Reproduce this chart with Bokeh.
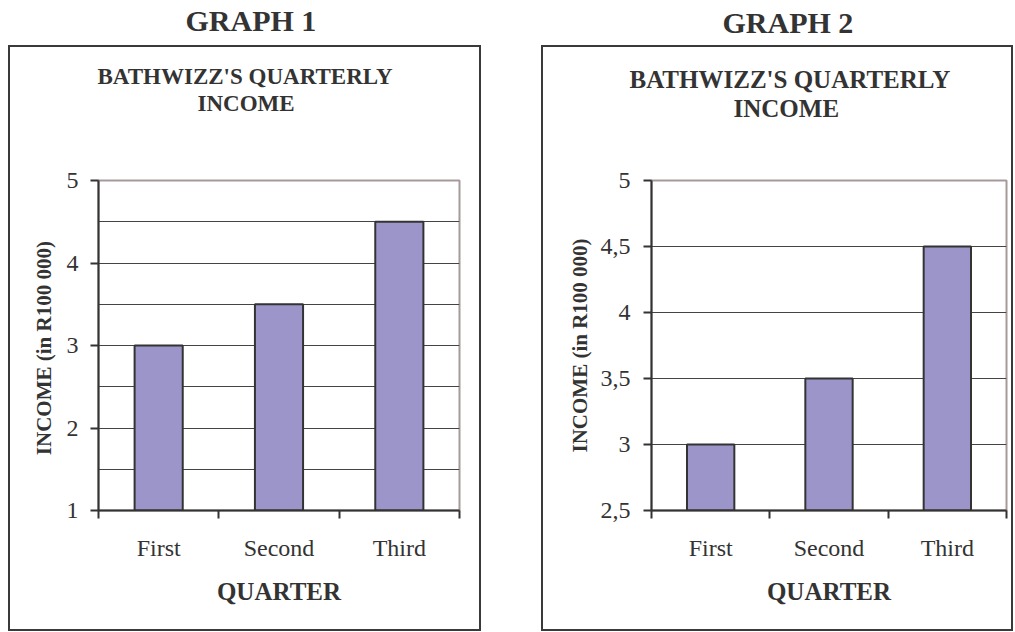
from bokeh.plotting import figure
from bokeh.models import Range1d, FixedTicker, Title
from bokeh.layouts import row
from bokeh.embed import file_html
from bokeh.resources import INLINE

# ---- data ----
categories = ["First", "Second", "Third"]
income = [3.0, 3.5, 4.5]
y1_ticks = [1, 2, 3, 4, 5]
y1_tick_labels = ["1", "2", "3", "4", "5"]
y2_ticks = [2.5, 3, 3.5, 4, 4.5, 5]
y2_tick_labels = ["2,5", "3", "3,5", "4", "4,5", "5"]
graph_names = ["GRAPH 1", "GRAPH 2"]
chart_title_lines = ["BATHWIZZ'S QUARTERLY", "INCOME"]
x_title = "QUARTER"
y_titles = ["INCOME  (in R100 000)", "INCOME (in R100 000)"]

FONT = "Liberation Serif"
TXT = "#333333"
AXC = "#333333"
BAR = "#9b95c9"


def box_css(l, r, t, b, w=2, c="#3a3a3a"):
    parts = [
        f"linear-gradient({c},{c}) {l}px {t}px / {r - l}px {w}px no-repeat",
        f"linear-gradient({c},{c}) {l}px {b - w}px / {r - l}px {w}px no-repeat",
        f"linear-gradient({c},{c}) {l}px {t}px / {w}px {b - t}px no-repeat",
        f"linear-gradient({c},{c}) {r - w}px {t}px / {w}px {b - t}px no-repeat",
    ]
    return ", ".join(parts)


def make_panel(cfg):
    ticks = cfg["ticks"]
    labels = cfg["labels"]
    p = figure(width=cfg["w"], height=632, output_backend="svg", toolbar_location=None,
               x_range=Range1d(0, len(categories)), y_range=Range1d(ticks[0], ticks[-1]),
               min_border_left=cfg["ml"], min_border_right=cfg["mr"],
               min_border_top=cfg["mt"], min_border_bottom=cfg["mb"])
    p.background_fill_color = "white"
    p.border_fill_color = None
    p.outline_line_color = "#a59c9a"
    p.outline_line_width = 2
    p.styles = {"background": box_css(*cfg["box"])}

    xs = [i + 0.5 for i in range(len(categories))]
    p.vbar(x=xs, top=income, bottom=ticks[0], width=0.4, fill_color=BAR,
           line_color=AXC, line_width=2)

    # x axis
    xa = p.xaxis[0]
    xa.ticker = FixedTicker(ticks=xs, minor_ticks=list(range(len(categories) + 1)))
    xa.major_label_overrides = {float(x): c for x, c in zip(xs, categories)}
    xa.major_tick_out = 0
    xa.major_tick_in = 0
    xa.minor_tick_out = 8
    xa.minor_tick_in = 0
    xa.minor_tick_line_color = AXC
    xa.minor_tick_line_width = 2
    xa.axis_line_color = AXC
    xa.axis_line_width = 2
    xa.major_label_standoff = 16
    xa.major_label_text_font = FONT
    xa.major_label_text_font_size = "24px"
    xa.major_label_text_color = TXT
    xa.axis_label = x_title
    xa.axis_label_text_font = FONT
    xa.axis_label_text_font_style = "bold"
    xa.axis_label_text_font_size = "25px"
    xa.axis_label_text_color = TXT
    xa.axis_label_standoff = 14

    # y axis
    ya = p.yaxis[0]
    ya.ticker = FixedTicker(ticks=ticks, minor_ticks=[])
    ya.major_label_overrides = {float(t): l for t, l in zip(ticks, labels)}
    ya.major_tick_out = 8
    ya.major_tick_in = 0
    ya.minor_tick_out = 0
    ya.minor_tick_in = 0
    ya.major_tick_line_color = AXC
    ya.major_tick_line_width = 2
    ya.axis_line_color = AXC
    ya.axis_line_width = 2
    ya.major_label_standoff = cfg["ystand"]
    ya.major_label_text_font = FONT
    ya.major_label_text_font_size = "24px"
    ya.major_label_text_color = TXT
    ya.axis_label = cfg["ytitle"]
    ya.axis_label_text_font = FONT
    ya.axis_label_text_font_style = "bold"
    ya.axis_label_text_font_size = "21px"
    ya.axis_label_text_color = TXT
    ya.axis_label_standoff = cfg["ylstand"]

    # grid
    p.xgrid.visible = False
    grid_vals = sorted(set(cfg["grid"]))
    p.ygrid.ticker = FixedTicker(ticks=grid_vals, minor_ticks=[])
    p.ygrid.grid_line_color = "#444444"
    p.ygrid.grid_line_width = 1

    # titles: p.title is outermost; later add_layout titles stack outward from the frame
    st = cfg["st"]
    t = p.title
    t.text = cfg["gname"]
    t.align = "left"
    t.offset = cfg["off"][2]
    t.standoff = 0
    t.text_font = FONT
    t.text_font_style = "bold"
    t.text_font_size = "30px"
    t.text_color = TXT

    # spacer between chart title and plot area
    p.add_layout(Title(text=" ", text_font_size="1px", standoff=st[0]), "above")
    p.add_layout(Title(text=chart_title_lines[1], align="left", offset=cfg["off"][0],
                       standoff=0, text_font=FONT, text_font_style="bold",
                       text_font_size=cfg["tfs"], text_color=TXT), "above")
    p.add_layout(Title(text=chart_title_lines[0], align="left", offset=cfg["off"][1],
                       standoff=0, text_font=FONT, text_font_style="bold",
                       text_font_size=cfg["tfs"], text_color=TXT), "above")
    # spacer between panel heading and chart title
    p.add_layout(Title(text=" ", text_font_size="1px", standoff=st[1]), "above")
    return p


half1 = [(a + b) / 2 for a, b in zip(y1_ticks[:-1], y1_ticks[1:])]
cfg1 = dict(w=500, ml=98, mr=41, mt=180, mb=122, ticks=y1_ticks, labels=y1_tick_labels,
            ystand=12, ylstand=8, ytitle=y_titles[0], grid=y1_ticks[1:-1] + half1,
            box=(8, 481, 45, 631), gname=graph_names[0], tfs="23px",
            off=(99, -1, 87), st=(61.8, 21.7))
cfg2 = dict(w=515, ml=151, mr=9, mt=180, mb=122, ticks=y2_ticks, labels=y2_tick_labels,
            ystand=13, ylstand=6, ytitle=y_titles[1], grid=y2_ticks[1:-1],
            box=(41, 513, 45, 631), gname=graph_names[1], tfs="25px",
            off=(82, -22, 71), st=(56.3, 22.3))

p1 = make_panel(cfg1)
p2 = make_panel(cfg2)
layout = row(p1, p2, spacing=0)

open("out.html", "w").write(file_html(layout, INLINE))
